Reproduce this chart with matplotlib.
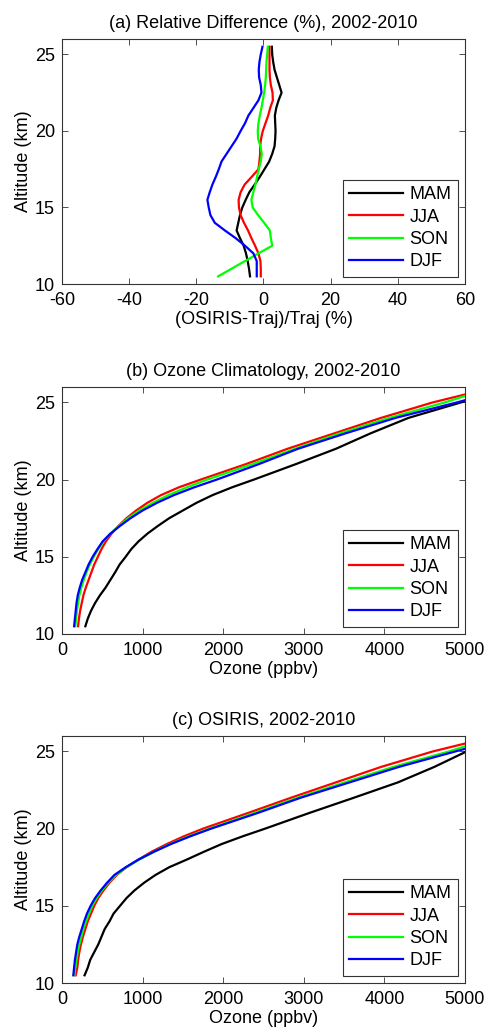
import matplotlib
matplotlib.use("Agg")
import matplotlib.pyplot as plt
import numpy as np

plt.rcParams['font.family'] = ['Liberation Sans', 'DejaVu Sans']
plt.rcParams['font.size'] = 13
plt.rcParams['axes.unicode_minus'] = False

seasons = ["MAM", "JJA", "SON", "DJF"]
colors = ["black", "red", "#00ff00", "blue"]

# (a) relative difference, altitude every 0.5 km
alt_a = [10.5, 11, 11.5, 12, 12.5, 13, 13.5, 14, 14.5, 15, 15.5, 16, 16.5, 17, 17.5,
         18, 18.5, 19, 19.5, 20, 20.5, 21, 21.5, 22, 22.5, 23, 23.5, 24, 24.5, 25, 25.5]
mam_a = [-4.0, -4.3, -4.7, -5.2, -5.9, -7.0, -8.0, -7.5, -7.0, -6.3, -5.3, -4.2, -2.6, -1.1, 0.3,
         1.7, 2.6, 3.3, 3.5, 3.6, 3.5, 3.4, 3.8, 4.5, 5.4, 4.7, 4.0, 3.3, 2.9, 2.6, 2.5]
jja_a = [-0.8, -0.8, -0.9, -1.5, -2.5, -3.6, -4.6, -5.8, -6.8, -7.3, -7.4, -6.8, -5.6, -3.5, -1.5,
         -1.2, -1.0, -1.0, -0.7, -0.2, 0.6, 1.4, 2.0, 2.8, 2.7, 2.2, 1.9, 1.8, 1.8, 1.8, 1.8]
son_a = [-13.5, -9.5, -5.5, -1.5, 2.6, 2.2, 1.9, 0.2, -1.6, -3.2, -3.6, -3.0, -2.4, -1.9, -1.4,
         -0.8, -0.5, -0.9, -1.6, -1.7, -1.5, -1.1, -0.6, -0.2, 0.2, 0.5, 0.7, 0.8, 0.9, 1.1, 1.3]
djf_a = [-2.0, -2.0, -2.0, -3.0, -5.5, -8.3, -11.5, -14.5, -15.8, -16.3, -16.7, -16.0, -15.2, -14.2, -13.3,
         -12.5, -11.0, -9.5, -8.0, -6.8, -5.5, -4.5, -3.0, -1.5, -0.6, -0.8, -1.3, -1.4, -1.2, -0.8, -0.3]

# (b) ozone climatology and (c) OSIRIS, ppbv
alt_o = [10.5, 11, 11.5, 12, 12.5, 13, 13.5, 14, 14.5, 15, 15.5, 16, 16.5, 17, 17.5, 18, 18.5,
         19, 19.5, 20, 21, 22, 23, 24, 25, 25.5]
mam_b = [290, 320, 360, 410, 470, 540, 600, 660, 715, 790, 860, 950, 1060, 1190, 1330, 1500, 1670,
         1870, 2110, 2380, 2900, 3400, 3830, 4300, 4950, 5300]
jja_b = [200, 210, 225, 245, 265, 295, 330, 365, 400, 445, 490, 545, 615, 700, 800, 920, 1060,
         1230, 1450, 1720, 2280, 2800, 3380, 3960, 4600, 4990]
son_b = [165, 175, 185, 200, 215, 240, 270, 305, 345, 395, 450, 515, 600, 705, 820, 960, 1130,
         1320, 1550, 1800, 2360, 2890, 3450, 4060, 4750, 5050]
djf_b = [150, 160, 170, 180, 195, 220, 250, 290, 330, 380, 440, 505, 600, 720, 850, 1000, 1180,
         1390, 1640, 1920, 2440, 2930, 3520, 4140, 4900, 5250]

mam_c = [280, 320, 350, 400, 450, 490, 530, 590, 640, 720, 800, 900, 1020, 1160, 1330, 1550, 1760,
         1980, 2240, 2520, 3060, 3620, 4170, 4620, 5020, 5250]
jja_c = [170, 190, 200, 215, 235, 260, 290, 320, 360, 400, 450, 515, 590, 680, 800, 950, 1110,
         1300, 1510, 1750, 2300, 2840, 3400, 3960, 4600, 4990]
son_c = [155, 165, 180, 195, 215, 240, 265, 300, 335, 375, 430, 495, 575, 670, 800, 960, 1140,
         1340, 1570, 1830, 2380, 2920, 3510, 4110, 4800, 5100]
djf_c = [140, 150, 160, 175, 190, 215, 245, 275, 310, 355, 410, 480, 560, 650, 790, 950, 1140,
         1350, 1590, 1850, 2420, 2960, 3570, 4180, 4880, 5230]

fig = plt.figure(figsize=(4.86, 10.29), dpi=100)

panels = [
    ([0.1276, 0.724, 0.829, 0.238], alt_a, [mam_a, jja_a, son_a, djf_a],
     "(a) Relative Difference (%), 2002-2010", "(OSIRIS-Traj)/Traj (%)", (-60, 60), [-60, -40, -20, 0, 20, 40, 60]),
    ([0.1276, 0.3839, 0.829, 0.240], alt_o, [mam_b, jja_b, son_b, djf_b],
     "(b) Ozone Climatology, 2002-2010", "Ozone (ppbv)", (0, 5000), [0, 1000, 2000, 3000, 4000, 5000]),
    ([0.1276, 0.0447, 0.829, 0.240], alt_o, [mam_c, jja_c, son_c, djf_c],
     "(c) OSIRIS, 2002-2010", "Ozone (ppbv)", (0, 5000), [0, 1000, 2000, 3000, 4000, 5000]),
]

for rect, alt, series, title, xlabel, xlim, xticks in panels:
    ax = fig.add_axes(rect)
    for vals, name, c in zip(series, seasons, colors):
        ax.plot(vals, alt, color=c, lw=1.6, label=name)
    ax.set_xlim(xlim)
    ax.set_ylim(10, 26)
    ax.set_xticks(xticks)
    ax.set_yticks([10, 15, 20, 25])
    ax.tick_params(direction="in", top=True, right=True, length=4, width=0.6,
                   labelsize=13, color="#333333")
    ax.tick_params(axis="x", pad=6)
    ax.tick_params(axis="y", pad=5)
    for s in ax.spines.values():
        s.set_linewidth(0.8)
        s.set_color("#333333")
    ax.set_title(title, fontsize=13, pad=8)
    ax.set_xlabel(xlabel, fontsize=13, labelpad=1)
    ax.set_ylabel("Altitude (km)", fontsize=13, labelpad=2)
    leg = ax.legend(loc="lower right", fancybox=False, edgecolor="#333333", framealpha=1,
                    handlelength=3.0, handletextpad=0.35, labelspacing=0.3, borderpad=0.35,
                    borderaxespad=0.4, fontsize=13)
    leg.get_frame().set_linewidth(0.8)

fig.savefig("out.png", dpi=100)
